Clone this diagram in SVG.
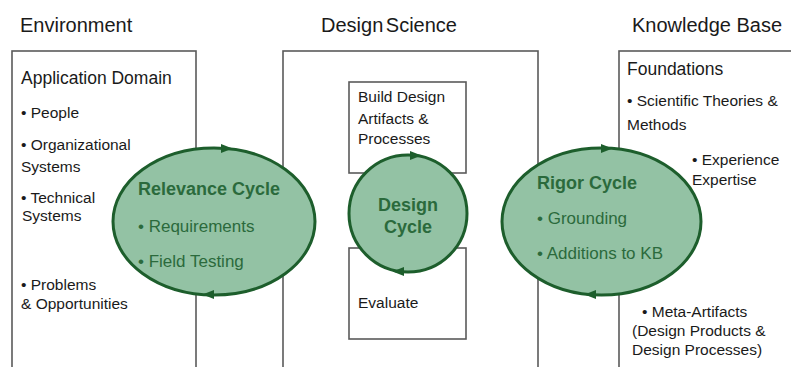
<svg xmlns="http://www.w3.org/2000/svg" xmlns:xlink="http://www.w3.org/1999/xlink" width="791" height="367" viewBox="0 0 791 367">
<style>
text{font-family:"Liberation Sans",Arial,sans-serif;fill:#1a1a1a}
.h{font-size:20px}
.sub{font-size:17.5px}
.it{font-size:15.5px}
.box{fill:#ffffff;stroke:#5a5a5a;stroke-width:1.6}
.cyc{fill:#93c2a4;stroke:#1d5e2c;stroke-width:3}
.ct{fill:#2b6a3c;font-weight:bold;font-size:18px}
.cb{fill:#2b6a3c;font-size:17px}
.ah{fill:#1d5e2c}
</style>
<defs>
<path id="ah" d="M-6,-4.5 L5.5,0 L-6,4.5 Z"/>
</defs>
<rect width="791" height="367" fill="#ffffff"/>
<text class="h" x="20" y="32">Environment</text>
<text class="h" x="321" y="32" word-spacing="-3">Design Science</text>
<text class="h" x="632" y="32">Knowledge Base</text>

<g id="environment">
<rect class="box" x="12" y="51" width="184" height="330"/>
<text class="sub" x="21" y="84">Application Domain</text>
<text class="it" x="21" y="118">• People</text>
<text class="it" x="21" y="150">• Organizational</text>
<text class="it" x="21" y="172">Systems</text>
<text class="it" x="21" y="203">• Technical</text>
<text class="it" x="22" y="221">Systems</text>
<text class="it" x="21" y="290">• Problems</text>
<text class="it" x="21" y="309">&amp; Opportunities</text>
</g>

<g id="design-science">
<rect class="box" x="283" y="51" width="255" height="330"/>
</g>
<g id="build">
<rect class="box" x="349" y="82" width="117" height="91"/>
<text class="it" x="358" y="102">Build Design</text>
<text class="it" x="358" y="124">Artifacts &amp;</text>
<text class="it" x="358" y="144">Processes</text>
</g>
<g id="evaluate">
<rect class="box" x="349" y="248" width="117" height="91"/>
<text class="it" x="358" y="308">Evaluate</text>
</g>

<g id="knowledge-base">
<rect class="box" x="619" y="51" width="190" height="330"/>
<text class="sub" x="627" y="75">Foundations</text>
<text class="it" x="627" y="106">• Scientific Theories &amp;</text>
<text class="it" x="627" y="130">Methods</text>
<text class="it" x="692" y="165">• Experience</text>
<text class="it" x="692" y="185">Expertise</text>
<text class="it" x="642" y="317">• Meta-Artifacts</text>
<text class="it" x="632" y="336">(Design Products &amp;</text>
<text class="it" x="632" y="355">Design Processes)</text>
</g>

<g id="relevance-cycle">
<ellipse class="cyc" cx="214" cy="221.5" rx="101" ry="73.5"/>
<text class="ct" x="138" y="195">Relevance Cycle</text>
<text class="cb" x="138" y="232">• Requirements</text>
<text class="cb" x="138" y="267">• Field Testing</text>
</g>

<g id="design-cycle">
<ellipse class="cyc" cx="408" cy="213.5" rx="59" ry="58.5"/>
<text class="ct" x="408" y="211" text-anchor="middle" font-size="17">Design</text>
<text class="ct" x="408" y="233" text-anchor="middle" font-size="17">Cycle</text>
</g>

<g id="rigor-cycle">
<ellipse class="cyc" cx="601.5" cy="221.5" rx="99.5" ry="73.5"/>
<text class="ct" x="537" y="189">Rigor Cycle</text>
<text class="cb" x="537" y="224">• Grounding</text>
<text class="cb" x="537" y="259">• Additions to KB</text>
</g>

<g id="connectors">
<use class="ah" xlink:href="#ah" transform="translate(227,148.6)"/>
<use class="ah" xlink:href="#ah" transform="translate(208,294.6) rotate(180)"/>
<use class="ah" xlink:href="#ah" transform="translate(416,155.6)"/>
<use class="ah" xlink:href="#ah" transform="translate(398,271.6) rotate(180)"/>
<use class="ah" xlink:href="#ah" transform="translate(607,148.6)"/>
<use class="ah" xlink:href="#ah" transform="translate(590,294.6) rotate(180)"/>
</g>
</svg>
